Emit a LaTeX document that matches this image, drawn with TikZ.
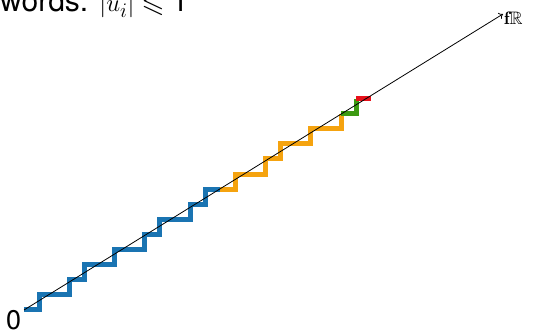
\documentclass[tikz,border=0pt]{standalone}
\usepackage{fontspec}
\usepackage{amssymb}
\usepackage{graphicx}
\newfontfamily\hv{TeX Gyre Heros}
\usetikzlibrary{arrows.meta}
\definecolor{sblue}{HTML}{1A74B2}
\definecolor{sorange}{HTML}{F5A30F}
\definecolor{sgreen}{HTML}{3C9A12}
\definecolor{sred}{HTML}{E8101A}
\begin{document}
\begin{tikzpicture}[x=1pt,y=1pt,
  stair/.style={line width=5pt, line join=miter},
  lbl/.style={anchor=base west, inner sep=0pt}]
\useasboundingbox (0,0) rectangle (539,332);
\fill[white] (0,0) rectangle (539,332);
\def\u{15.1}
\coordinate (O) at (24,22);
\coordinate (E) at (503,318);
\draw[stair, sblue] (O) -- ++(\u,0) -- ++(0,\u) -- ++({2*\u},0) -- ++(0,\u)
  -- ++(\u,0) -- ++(0,\u) -- ++({2*\u},0) -- ++(0,\u) -- ++({2*\u},0) -- ++(0,\u)
  -- ++(\u,0) -- ++(0,\u) -- ++({2*\u},0) -- ++(0,\u) -- ++(\u,0) -- ++(0,\u)
  -- ++(\u,0) coordinate (B);
\draw[stair, sorange] (B) -- ++(\u,0) -- ++(0,\u) -- ++({2*\u},0) -- ++(0,\u)
  -- ++(\u,0) -- ++(0,\u) -- ++({2*\u},0) -- ++(0,\u) -- ++({2*\u},0) -- ++(0,\u)
  coordinate (C);
\draw[stair, sgreen] (C) -- ++(\u,0) -- ++(0,\u) coordinate (D);
\draw[stair, sred] (D) -- ++(\u,0) coordinate (F);
\draw[line width=0.8pt, -{To[length=4pt,width=7pt]}] (O) -- (E);
\node[lbl, font=\hv\fontsize{30}{30}\selectfont] (title) at (0,320) {words: $|u_i|\leqslant\mbox{\hv 1}$};
\node[lbl] (lab) at (504,307) {\scalebox{1.8}{$\mathbf{f}\mathbb{R}$}};
\node[lbl, font=\hv\fontsize{27}{27}\selectfont] (zero) at (6,2) {0};
\end{tikzpicture}
\end{document}
